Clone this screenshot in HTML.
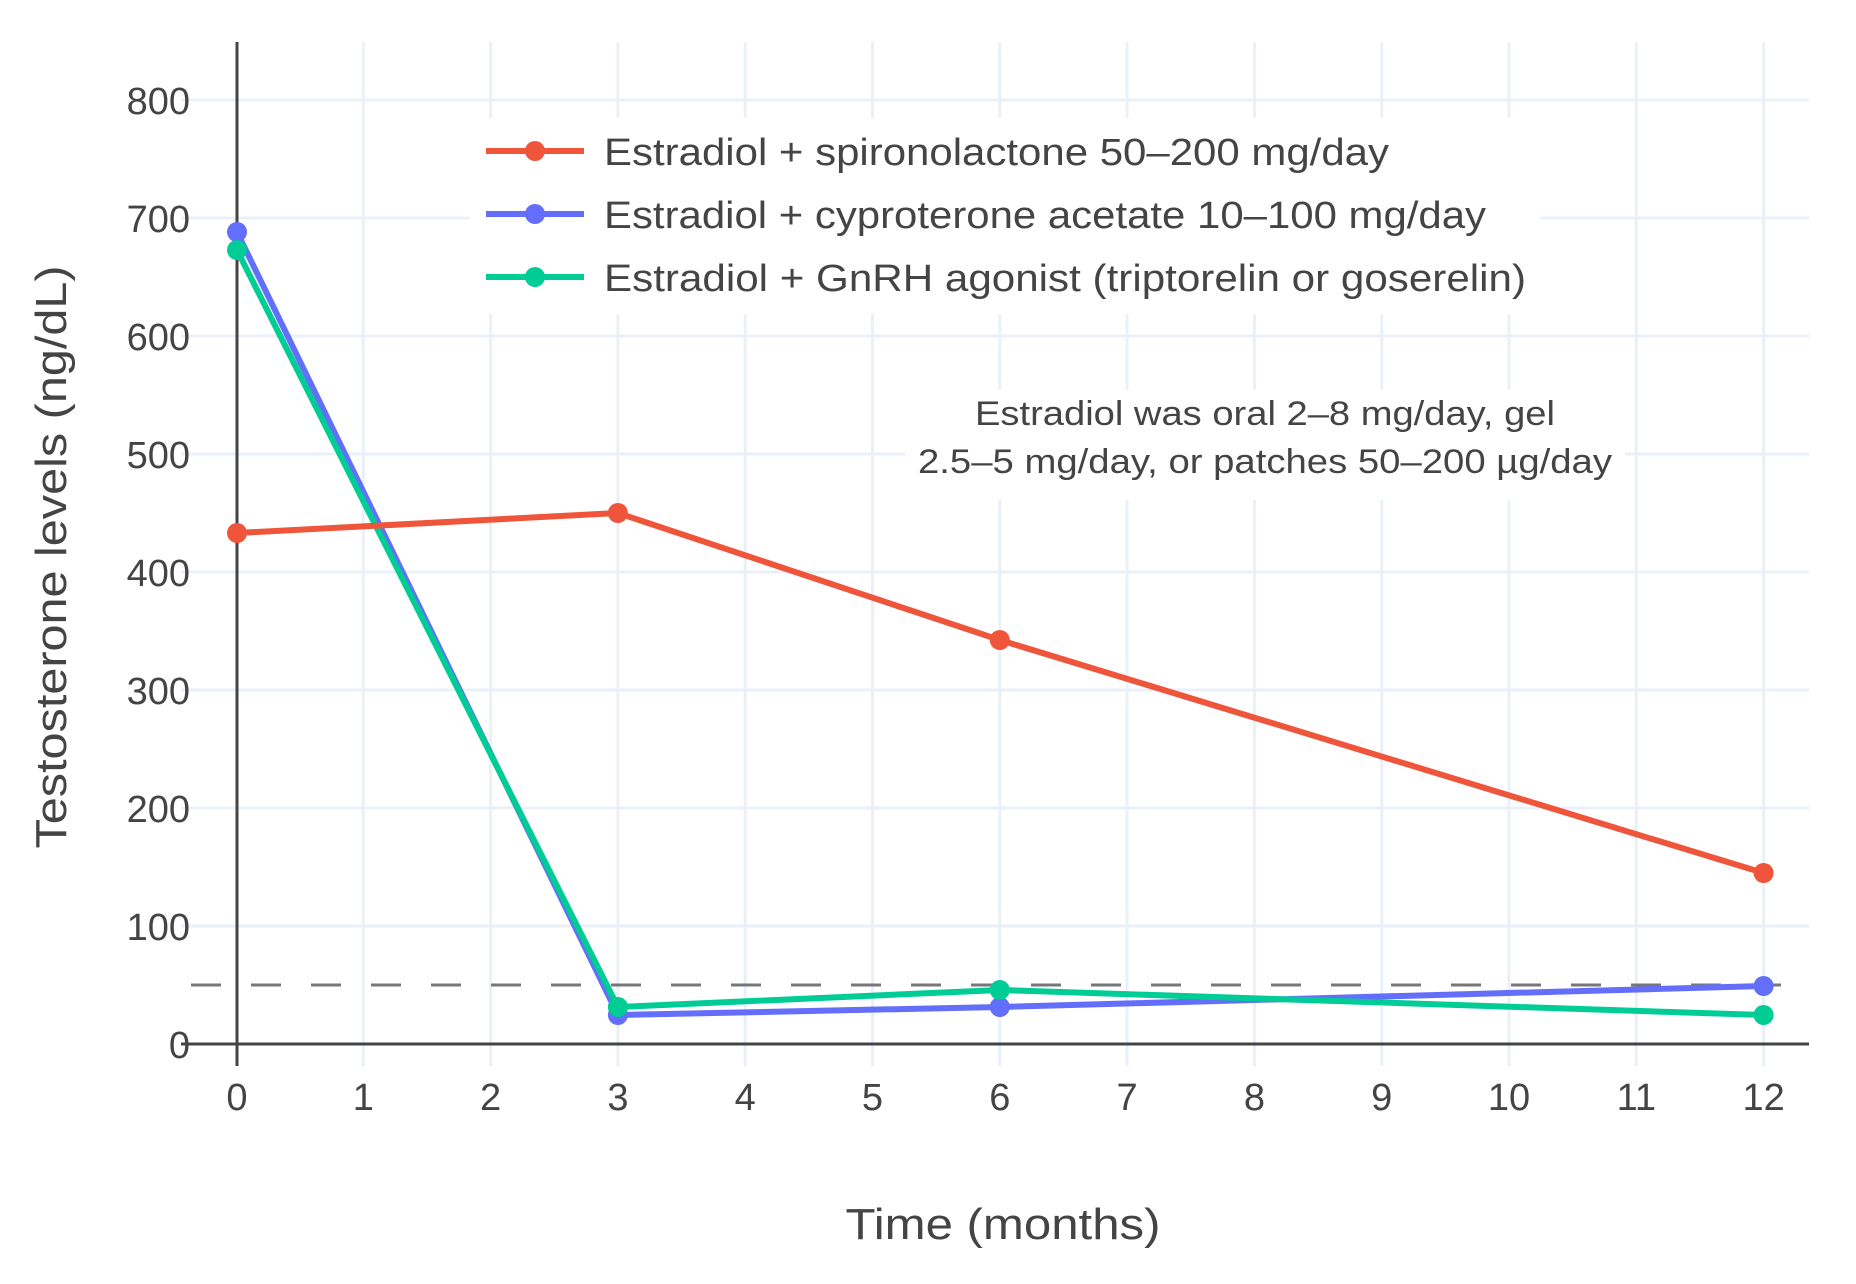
<!DOCTYPE html>
<html><head><meta charset="utf-8"><style>
html,body{margin:0;padding:0;background:#fff}
svg{display:block}
text{font-family:"Liberation Sans",sans-serif;fill:#444}
</style></head><body>
<svg width="1856" height="1284" viewBox="0 0 1856 1284" xmlns="http://www.w3.org/2000/svg">
<rect width="1856" height="1284" fill="#fff"/>
<g stroke="#ebf0f8" stroke-width="3">
<line x1="363.3" y1="42" x2="363.3" y2="1066"/>
<line x1="490.6" y1="42" x2="490.6" y2="1066"/>
<line x1="617.9" y1="42" x2="617.9" y2="1066"/>
<line x1="745.2" y1="42" x2="745.2" y2="1066"/>
<line x1="872.5" y1="42" x2="872.5" y2="1066"/>
<line x1="999.8" y1="42" x2="999.8" y2="1066"/>
<line x1="1127.1" y1="42" x2="1127.1" y2="1066"/>
<line x1="1254.4" y1="42" x2="1254.4" y2="1066"/>
<line x1="1381.7" y1="42" x2="1381.7" y2="1066"/>
<line x1="1509" y1="42" x2="1509" y2="1066"/>
<line x1="1636.3" y1="42" x2="1636.3" y2="1066"/>
<line x1="1763.6" y1="42" x2="1763.6" y2="1066"/>
<line x1="181" y1="100" x2="1809" y2="100"/>
<line x1="181" y1="218" x2="1809" y2="218"/>
<line x1="181" y1="336" x2="1809" y2="336"/>
<line x1="181" y1="454" x2="1809" y2="454"/>
<line x1="181" y1="572" x2="1809" y2="572"/>
<line x1="181" y1="690" x2="1809" y2="690"/>
<line x1="181" y1="808" x2="1809" y2="808"/>
<line x1="181" y1="926" x2="1809" y2="926"/>
</g>
<line x1="191" y1="985" x2="1809" y2="985" stroke="#777" stroke-width="3" stroke-dasharray="30,30"/>
<line x1="181" y1="1044" x2="1809" y2="1044" stroke="#444" stroke-width="3"/>
<line x1="237" y1="42" x2="237" y2="1066" stroke="#444" stroke-width="3"/>
<rect x="470" y="118" width="1070" height="196" fill="#fff"/>
<rect x="905" y="390" width="720" height="110" fill="#fff"/>
<g fill="none" stroke-width="6" stroke-linejoin="round">
<polyline stroke="#636efa" points="237,232 617.9,1015 999.8,1007 1763.6,986"/>
<polyline stroke="#00cc96" points="237,250 617.9,1007 999.8,990 1763.6,1015"/>
<polyline stroke="#ef553b" points="237,533 617.9,513 999.8,640 1763.6,873"/>
</g>
<g fill="#636efa"><circle cx="237" cy="232" r="10"/><circle cx="617.9" cy="1015" r="10"/><circle cx="999.8" cy="1007" r="10"/><circle cx="1763.6" cy="986" r="10"/></g>
<g fill="#00cc96"><circle cx="237" cy="250" r="10"/><circle cx="617.9" cy="1007" r="10"/><circle cx="999.8" cy="990" r="10"/><circle cx="1763.6" cy="1015" r="10"/></g>
<g fill="#ef553b"><circle cx="237" cy="533" r="10"/><circle cx="617.9" cy="513" r="10"/><circle cx="999.8" cy="640" r="10"/><circle cx="1763.6" cy="873" r="10"/></g>
<g font-size="38" text-anchor="end">
<text x="190" y="114">800</text><text x="190" y="232">700</text><text x="190" y="350">600</text>
<text x="190" y="468">500</text><text x="190" y="586">400</text><text x="190" y="704">300</text>
<text x="190" y="822">200</text><text x="190" y="940">100</text><text x="190" y="1058">0</text>
</g>
<g font-size="38" text-anchor="middle">
<text x="237" y="1110">0</text><text x="363.3" y="1110">1</text><text x="490.6" y="1110">2</text>
<text x="617.9" y="1110">3</text><text x="745.2" y="1110">4</text><text x="872.5" y="1110">5</text>
<text x="999.8" y="1110">6</text><text x="1127.1" y="1110">7</text><text x="1254.4" y="1110">8</text>
<text x="1381.7" y="1110">9</text><text x="1509" y="1110">10</text><text x="1636.3" y="1110">11</text>
<text x="1763.6" y="1110">12</text>
</g>
<text x="1003" y="1239" font-size="44" text-anchor="middle" textLength="315" lengthAdjust="spacingAndGlyphs">Time (months)</text>
<text transform="translate(66,557) rotate(-90)" font-size="44" text-anchor="middle" textLength="583" lengthAdjust="spacingAndGlyphs">Testosterone levels (ng/dL)</text>
<g stroke-width="6"><line x1="486" y1="151" x2="584" y2="151" stroke="#ef553b"/><line x1="486" y1="214" x2="584" y2="214" stroke="#636efa"/><line x1="486" y1="277" x2="584" y2="277" stroke="#00cc96"/></g>
<circle cx="535" cy="151" r="10" fill="#ef553b"/><circle cx="535" cy="214" r="10" fill="#636efa"/><circle cx="535" cy="277" r="10" fill="#00cc96"/>
<g font-size="38">
<text x="604" y="165" textLength="785" lengthAdjust="spacingAndGlyphs">Estradiol + spironolactone 50–200 mg/day</text>
<text x="604" y="228" textLength="882" lengthAdjust="spacingAndGlyphs">Estradiol + cyproterone acetate 10–100 mg/day</text>
<text x="604" y="291" textLength="922" lengthAdjust="spacingAndGlyphs">Estradiol + GnRH agonist (triptorelin or goserelin)</text>
</g>
<g font-size="34" text-anchor="middle">
<text x="1265" y="425" textLength="580" lengthAdjust="spacingAndGlyphs">Estradiol was oral 2–8 mg/day, gel</text>
<text x="1265" y="473" textLength="694" lengthAdjust="spacingAndGlyphs">2.5–5 mg/day, or patches 50–200 µg/day</text>
</g>
</svg>
</body></html>
